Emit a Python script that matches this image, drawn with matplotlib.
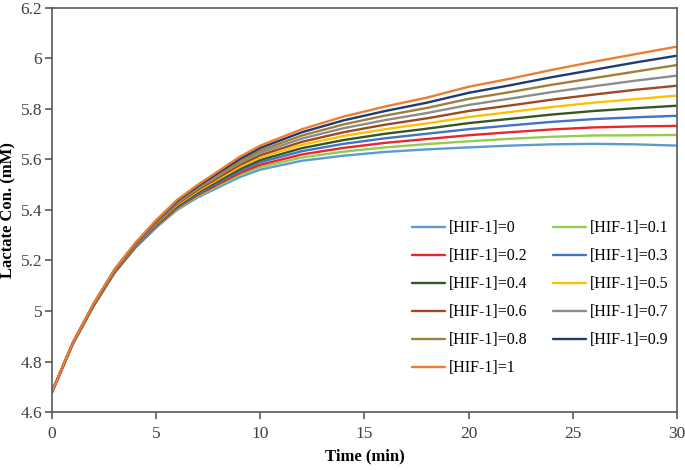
import matplotlib
matplotlib.use("Agg")
import matplotlib.pyplot as plt

plt.rcParams['font.family'] = ['Liberation Serif', 'DejaVu Serif']

# time points (min)
time_min = [0, 1, 2, 3, 4, 5, 6, 7, 8, 9, 10, 12, 14, 16, 18, 20, 22, 24, 26, 28, 30]

# lactate concentration (mM), one list per [HIF-1] level
hif_0 = [4.68, 4.870, 5.020, 5.150, 5.250, 5.330, 5.400, 5.450, 5.490, 5.530, 5.560,
         5.595, 5.615, 5.630, 5.640, 5.648, 5.655, 5.660, 5.662, 5.660, 5.655]
hif_01 = [4.68, 4.871, 5.021, 5.152, 5.252, 5.333, 5.404, 5.455, 5.497, 5.538, 5.570,
          5.608, 5.631, 5.648, 5.661, 5.672, 5.682, 5.690, 5.695, 5.696, 5.697]
hif_02 = [4.68, 4.871, 5.022, 5.153, 5.254, 5.336, 5.408, 5.460, 5.503, 5.546, 5.579,
          5.620, 5.646, 5.666, 5.681, 5.696, 5.708, 5.719, 5.727, 5.731, 5.733]
hif_03 = [4.68, 4.872, 5.023, 5.155, 5.256, 5.339, 5.412, 5.465, 5.510, 5.554, 5.589,
          5.633, 5.662, 5.684, 5.702, 5.720, 5.735, 5.749, 5.760, 5.767, 5.773]
hif_04 = [4.68, 4.872, 5.024, 5.156, 5.258, 5.342, 5.416, 5.470, 5.516, 5.562, 5.598,
          5.645, 5.677, 5.702, 5.722, 5.744, 5.761, 5.778, 5.792, 5.803, 5.813]
hif_05 = [4.68, 4.873, 5.025, 5.158, 5.260, 5.345, 5.420, 5.475, 5.523, 5.570, 5.608,
          5.658, 5.693, 5.720, 5.743, 5.768, 5.788, 5.808, 5.825, 5.839, 5.853]
hif_06 = [4.68, 4.873, 5.026, 5.159, 5.262, 5.348, 5.424, 5.480, 5.529, 5.578, 5.617,
          5.670, 5.708, 5.738, 5.763, 5.792, 5.814, 5.837, 5.857, 5.876, 5.892]
hif_07 = [4.68, 4.874, 5.027, 5.161, 5.264, 5.351, 5.428, 5.485, 5.536, 5.586, 5.627,
          5.683, 5.724, 5.756, 5.784, 5.816, 5.841, 5.867, 5.890, 5.912, 5.932]
hif_08 = [4.68, 4.874, 5.028, 5.162, 5.266, 5.354, 5.432, 5.490, 5.542, 5.594, 5.636,
          5.695, 5.739, 5.774, 5.804, 5.840, 5.867, 5.896, 5.922, 5.948, 5.974]
hif_09 = [4.68, 4.875, 5.029, 5.164, 5.268, 5.357, 5.436, 5.495, 5.549, 5.602, 5.646,
          5.708, 5.755, 5.792, 5.825, 5.864, 5.894, 5.926, 5.955, 5.984, 6.011]
hif_1 = [4.68, 4.875, 5.030, 5.165, 5.270, 5.360, 5.440, 5.500, 5.555, 5.610, 5.655,
         5.720, 5.770, 5.810, 5.845, 5.888, 5.920, 5.955, 5.987, 6.017, 6.047]

series = [hif_0, hif_01, hif_02, hif_03, hif_04, hif_05, hif_06, hif_07, hif_08, hif_09, hif_1]
labels = ['[HIF-1]=0', '[HIF-1]=0.1', '[HIF-1]=0.2', '[HIF-1]=0.3', '[HIF-1]=0.4',
          '[HIF-1]=0.5', '[HIF-1]=0.6', '[HIF-1]=0.7', '[HIF-1]=0.8', '[HIF-1]=0.9',
          '[HIF-1]=1']
colors = ['#5B9BD5', '#92CC50', '#E8262B', '#4472C4', '#375623', '#FFC000',
          '#9E4A20', '#8C8C8C', '#A07F3A', '#203A72', '#ED7D31']

fig = plt.figure(figsize=(6.85, 4.70), dpi=100)
ax = fig.add_axes([0.076, 0.1234, 0.912, 0.8596])

lines = []
for vals, lab, col in zip(series, labels, colors):
    ln, = ax.plot(time_min, vals, color=col, lw=1.7, label=lab, solid_capstyle='round')
    lines.append(ln)

ax.set_xlim(0, 30)
ax.set_ylim(4.6, 6.2)
ax.set_xticks([0, 5, 10, 15, 20, 25, 30])
ax.set_yticks([4.6, 4.8, 5.0, 5.2, 5.4, 5.6, 5.8, 6.0, 6.2])
ax.set_yticklabels(['4.6', '4.8', '5', '5.2', '5.4', '5.6', '5.8', '6', '6.2'])

for sp in ax.spines.values():
    sp.set_color('#595959')
    sp.set_linewidth(1.2)
ax.tick_params(axis='both', direction='out', length=5, width=1.2, color='#595959',
               labelsize=12.5, labelcolor='#404040')
ax.tick_params(axis='x', pad=5)
ax.tick_params(axis='y', pad=2)
ax.tick_params(top=False, right=False)

ax.set_xlabel('Time (min)', fontsize=12, fontweight='bold', labelpad=5)
ax.set_ylabel('Lactate Con. (mM)', fontsize=12, fontweight='bold', labelpad=3)

# row-major legend order: left column 0,0.2,...,1 ; right column 0.1,...,0.9
order = [0, 2, 4, 6, 8, 10, 1, 3, 5, 7, 9]
ax.legend([lines[i] for i in order], [labels[i] for i in order], ncol=2,
          loc='upper left', bbox_to_anchor=(0.553, 0.51), frameon=False,
          fontsize=11.5, handlelength=2.1, handletextpad=0.2,
          columnspacing=1.6, labelspacing=0.75)

plt.savefig('out.png', dpi=100)
